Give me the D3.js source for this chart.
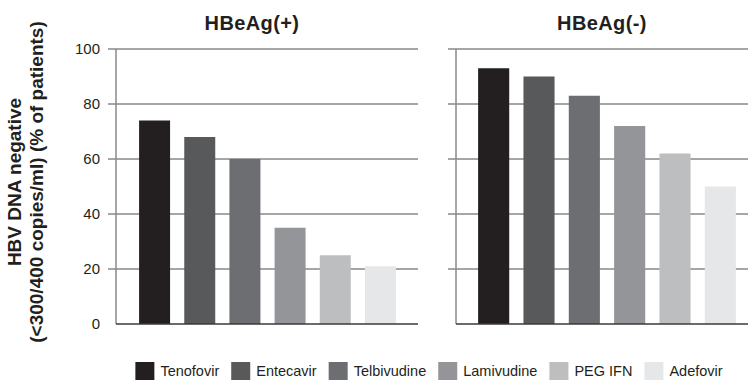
<!DOCTYPE html>
<html>
<head>
<meta charset="utf-8">
<script src="https://cdn.jsdelivr.net/npm/d3@7"></script>
<style>
  html, body { margin: 0; padding: 0; background: #fff; }
  svg { display: block; font-family: "Liberation Sans", Arial, Helvetica, sans-serif; }
</style>
</head>
<body>
<svg id="chart" width="749" height="380"></svg>
<script>
// ---- data ----
const categories = ["Tenofovir", "Entecavir", "Telbivudine", "Lamivudine", "PEG IFN", "Adefovir"];
const panelTitles = ["HBeAg(+)", "HBeAg(-)"];
const hbeagPositive = [74, 68, 60, 35, 25, 21];
const hbeagNegative = [93, 90, 83, 72, 62, 50];
const yTicks = [0, 20, 40, 60, 80, 100];
const colors = ["#231f20", "#58595b", "#6d6e71", "#939598", "#bcbec0", "#e6e7e8"];
const yTitleLines = ["HBV DNA negative", "(<300/400 copies/ml) (% of patients)"];

// ---- layout ----
const svg = d3.select("#chart");
const y = d3.scaleLinear().domain([0, 100]).range([324, 49]);

const panels = [
  { title: panelTitles[0], values: hbeagPositive, axisX: 116, endX: 418, band: [132, 403], titleX: 252 },
  { title: panelTitles[1], values: hbeagNegative, axisX: 456, endX: 748, band: [471, 743], titleX: 602 }
];

panels.forEach((p, pi) => {
  const g = svg.append("g");
  const x = d3.scaleBand().domain(categories).range(p.band).paddingInner(0.314).paddingOuter(0.157);

  // gridlines
  g.selectAll("line.grid").data(yTicks.filter(t => t > 0)).join("line")
    .attr("x1", p.axisX - 8).attr("x2", p.endX)
    .attr("y1", d => y(d)).attr("y2", d => y(d))
    .attr("stroke", "#4d4d4f").attr("stroke-width", 1);

  // bars
  g.selectAll("rect.bar").data(p.values).join("rect")
    .attr("x", (d, i) => x(categories[i]))
    .attr("width", x.bandwidth())
    .attr("y", d => y(d))
    .attr("height", d => y(0) - y(d))
    .attr("fill", (d, i) => colors[i]);

  // y axis line
  g.append("line")
    .attr("x1", p.axisX).attr("x2", p.axisX)
    .attr("y1", y(100)).attr("y2", y(0))
    .attr("stroke", "#8a8a8c").attr("stroke-width", 1.5);

  // baseline
  g.append("line")
    .attr("x1", p.axisX).attr("x2", p.endX)
    .attr("y1", y(0)).attr("y2", y(0))
    .attr("stroke", "#3a3a3c").attr("stroke-width", 1.5);

  // title
  g.append("text")
    .attr("x", p.titleX).attr("y", 30)
    .attr("text-anchor", "middle")
    .attr("font-weight", "bold")
    .attr("font-size", "20px")
    .attr("letter-spacing", "0.4px")
    .attr("fill", "#231f20")
    .text(p.title);

  if (pi === 0) {
    const axis = d3.axisLeft(y).tickValues(yTicks).tickSize(0).tickPadding(8);
    const ag = svg.append("g").attr("transform", `translate(${p.axisX - 8},0)`).call(axis);
    ag.select(".domain").remove();
    ag.selectAll("text")
      .attr("font-size", "15px")
      .attr("font-family", "'Liberation Sans', Arial, sans-serif")
      .attr("fill", "#231f20");
  }
});

// y title
const yt = svg.append("text")
  .attr("transform", "translate(0,182) rotate(-90)")
  .attr("text-anchor", "middle")
  .attr("font-weight", "bold")
  .attr("font-size", "19px")
  .attr("fill", "#231f20");
yt.append("tspan").attr("x", 0).attr("y", 21).text(yTitleLines[0]);
yt.append("tspan").attr("x", 0).attr("y", 43).text(yTitleLines[1]);

// legend
const lg = svg.append("g");
const items = lg.selectAll("g.item").data(categories).join("g");
items.append("rect")
  .attr("width", 19).attr("height", 18)
  .attr("y", 362)
  .attr("fill", (d, i) => colors[i]);
items.append("text")
  .attr("x", 25).attr("y", 376)
  .attr("font-size", "14.5px")
  .attr("fill", "#231f20")
  .text(d => d);
let cx = 0;
const gap = 12;
items.each(function () {
  const w = this.querySelector("text").getComputedTextLength();
  d3.select(this).attr("transform", `translate(${cx},0)`);
  cx += 25 + w + gap;
});
const totalW = cx - gap;
lg.attr("transform", `translate(${429 - totalW / 2},0)`);
</script>
</body>
</html>
